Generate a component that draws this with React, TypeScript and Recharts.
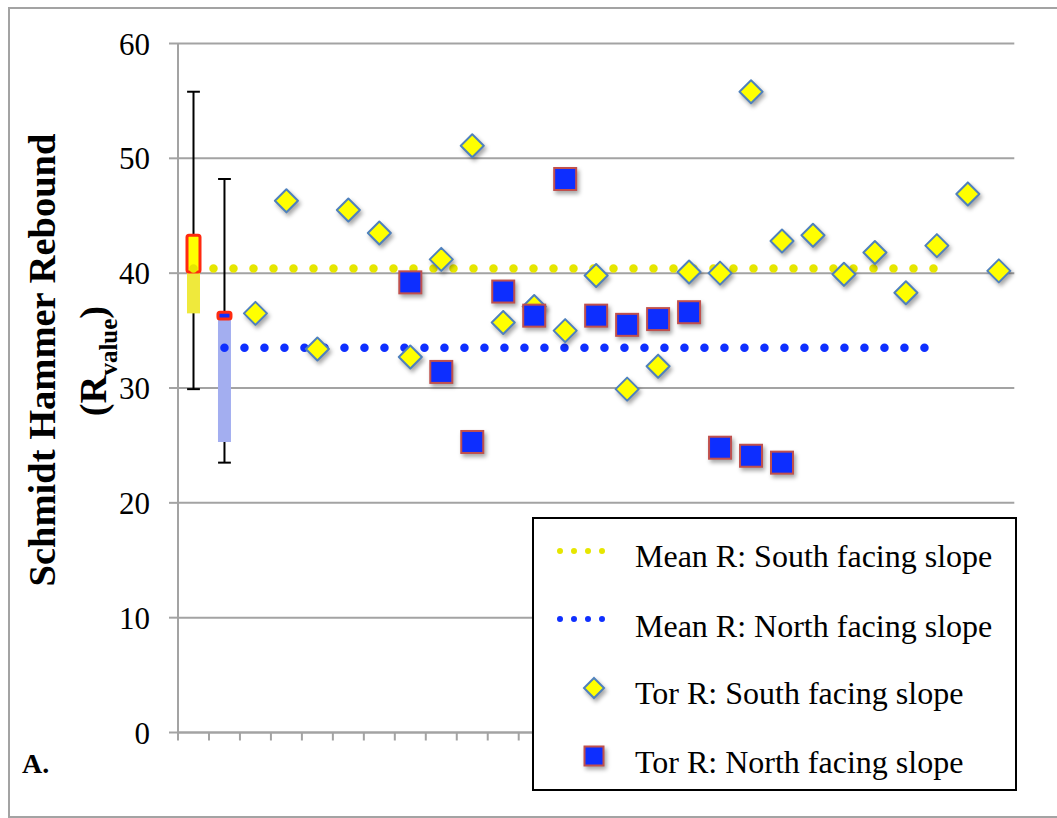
import React from 'react';
import {
  ComposedChart,
  XAxis,
  YAxis,
  CartesianGrid,
  Bar,
  Line,
  Scatter,
  Cell,
  Legend,
} from 'recharts';

// Slots along the x axis: two summary boxes (south, north), then one slot per tor
const SLOT_COUNT = 27;
const slotCenters = Array.from({ length: SLOT_COUNT }, (_, i) => i + 0.5);
const slotEdges = Array.from({ length: SLOT_COUNT + 1 }, (_, i) => i);

// Tor R values, south facing slope (slots 2 .. 26)
const SOUTH_FIRST_SLOT = 2;
const southTorR = [
  36.5, 46.3, 33.4, 45.5, 43.5, 32.7, 41.2, 51.1, 35.7, 37.1, 35.0, 39.8, 29.9,
  31.9, 40.1, 40.0, 55.8, 42.8, 43.3, 39.9, 41.8, 38.3, 42.4, 46.9, 40.2,
];

// Tor R values, north facing slope (slots 7 .. 19)
const NORTH_FIRST_SLOT = 7;
const northTorR = [39.2, 31.4, 25.3, 38.4, 36.3, 48.2, 36.3, 35.5, 36.0, 36.6, 24.8, 24.1, 23.5];

// Box-and-whisker summaries: [south, north]
const boxMin = [29.9, 23.5];
const boxQ1 = [36.5, 25.3];
const boxMedian = [40.1, 36.0];
const boxQ3 = [43.3, 36.6];
const boxMax = [55.8, 48.2];
const boxLowerFill = ['#efe93c', '#a3aef0'];
const boxUpperFill = ['#ffff00', '#0d2eff'];

// Mean R per slope and the slot range each mean line spans
const southMeanR = 40.4;
const northMeanR = 33.5;
const southMeanSlots = [0, 24];
const northMeanSlots = [1, 24];

const yTicks = [0, 10, 20, 30, 40, 50, 60];

const GRID = '#a3a3a3';
const YELLOW_DOT = '#e6e600';
const BLUE_DOT = '#0f2fff';
const DIAMOND_FILL = '#ffff00';
const DIAMOND_EDGE = '#4f81bd';
const SQUARE_FILL = '#0d2eff';
const SQUARE_EDGE = '#c0504d';
const BOX_EDGE = '#ff2a10';
const SERIF = '"Liberation Serif", "Times New Roman", serif';

const inRange = (i: number, span: number[]) => i >= span[0] && i <= span[1];

const rows = slotCenters.map((x, i) => ({
  x,
  whisker: i < boxMin.length ? [boxMin[i], boxMax[i]] : null,
  lower: i < boxQ1.length ? [boxQ1[i], boxMedian[i]] : null,
  upper: i < boxQ3.length ? [boxMedian[i], boxQ3[i]] : null,
  southMean: inRange(i, southMeanSlots) ? southMeanR : null,
  northMean: inRange(i, northMeanSlots) ? northMeanR : null,
}));

const southPoints = southTorR.map((r, k) => ({ x: slotCenters[SOUTH_FIRST_SLOT + k], r }));
const northPoints = northTorR.map((r, k) => ({ x: slotCenters[NORTH_FIRST_SLOT + k], r }));

const markShadow = { filter: 'drop-shadow(2px 3px 2px rgba(0,0,0,0.35))' };

function DiamondMark(props: any) {
  const { cx, cy } = props;
  if (cx == null || cy == null) return null;
  const h = 11.5;
  return (
    <polygon
      points={`${cx},${cy - h} ${cx + h},${cy} ${cx},${cy + h} ${cx - h},${cy}`}
      fill={DIAMOND_FILL}
      stroke={DIAMOND_EDGE}
      strokeWidth={2}
      strokeLinejoin="round"
      style={markShadow}
    />
  );
}

function SquareMark(props: any) {
  const { cx, cy } = props;
  if (cx == null || cy == null) return null;
  const h = 11;
  return (
    <rect
      x={cx - h}
      y={cy - h}
      width={2 * h}
      height={2 * h}
      fill={SQUARE_FILL}
      stroke={SQUARE_EDGE}
      strokeWidth={2}
      style={markShadow}
    />
  );
}

function WhiskerShape(props: any) {
  const { x, y, width, height } = props;
  if (x == null || y == null || !height) return null;
  const top = Math.min(y, y + height);
  const bottom = Math.max(y, y + height);
  const cx = x + width / 2;
  const cap = 6.4;
  return (
    <g stroke="#000" strokeWidth={2}>
      <line x1={cx} y1={top} x2={cx} y2={bottom} />
      <line x1={cx - cap} y1={top} x2={cx + cap} y2={top} />
      <line x1={cx - cap} y1={bottom} x2={cx + cap} y2={bottom} />
    </g>
  );
}

// Category ticks carry no text; only the tick marks are drawn
const EmptyTick = () => <g />;

function AxisTitle() {
  return (
    <g fontFamily={SERIF} fontWeight="bold" fill="#000">
      <text x={45} y={351} transform="rotate(-90 45 351)" textAnchor="middle" fontSize={38.5}>
        Schmidt Hammer Rebound
      </text>
      <text x={96} y={352} transform="rotate(-90 96 352)" textAnchor="middle" fontSize={38.5}>
        (R
        <tspan fontSize={25} dy={11}>
          value
        </tspan>
        <tspan dy={-11}>)</tspan>
      </text>
      <text x={12} y={764} fontSize={28}>
        A.
      </text>
    </g>
  );
}

function LegendPanel() {
  const textProps = { x: 101, fontFamily: SERIF, fontSize: 32, fill: '#000' };
  const dh = 10;
  const sh = 9.5;
  return (
    <div
      style={{
        width: 485,
        height: 274,
        boxSizing: 'border-box',
        border: '2px solid #000',
        background: '#fff',
      }}
    >
      <svg width={481} height={270} style={{ display: 'block' }}>
        <line x1={26} y1={32} x2={82} y2={32} stroke={YELLOW_DOT} strokeWidth={6} strokeDasharray="0 14" strokeLinecap="round" />
        <text {...textProps} y={48}>Mean R: South facing slope</text>
        <line x1={26} y1={100} x2={82} y2={100} stroke={BLUE_DOT} strokeWidth={6} strokeDasharray="0 14" strokeLinecap="round" />
        <text {...textProps} y={118}>Mean R: North facing slope</text>
        <polygon
          points={`60,${169 - dh} ${60 + dh},169 60,${169 + dh} ${60 - dh},169`}
          fill={DIAMOND_FILL}
          stroke={DIAMOND_EDGE}
          strokeWidth={2}
          style={markShadow}
        />
        <text {...textProps} y={185}>Tor R: South facing slope</text>
        <rect x={60 - sh} y={237 - sh} width={2 * sh} height={2 * sh} fill={SQUARE_FILL} stroke={SQUARE_EDGE} strokeWidth={2} style={markShadow} />
        <text {...textProps} y={254}>Tor R: North facing slope</text>
      </svg>
    </div>
  );
}

const hiddenAxis = (id: string) => (
  <XAxis xAxisId={id} type="number" dataKey="x" domain={[0, SLOT_COUNT]} hide />
);

export default function App() {
  return (
    <div
      style={{
        position: 'absolute',
        left: 8,
        top: 7,
        width: 1049,
        height: 811,
        boxSizing: 'border-box',
        borderTop: `2px solid ${GRID}`,
        borderLeft: `2px solid ${GRID}`,
        borderBottom: `2px solid ${GRID}`,
        background: '#fff',
        overflow: 'hidden',
      }}
    >
      <ComposedChart
        width={1047}
        height={807}
        data={rows}
        margin={{ top: 34.5, right: 42.7, bottom: 0, left: 0 }}
      >
        <CartesianGrid vertical={false} stroke={GRID} strokeWidth={2} />
        <XAxis
          type="number"
          dataKey="x"
          domain={[0, SLOT_COUNT]}
          ticks={slotEdges}
          interval={0}
          tick={EmptyTick}
          tickSize={8}
          tickLine={{ stroke: GRID, strokeWidth: 2 }}
          axisLine={{ stroke: GRID, strokeWidth: 2 }}
          height={83.5}
        />
        {hiddenAxis('whisker')}
        {hiddenAxis('lower')}
        {hiddenAxis('upper')}
        <YAxis
          type="number"
          domain={[0, 60]}
          ticks={yTicks}
          interval={0}
          width={168}
          tickSize={9}
          tickMargin={19}
          tick={{ fontFamily: SERIF, fontSize: 31, fill: '#000' }}
          tickLine={{ stroke: GRID, strokeWidth: 2 }}
          axisLine={{ stroke: GRID, strokeWidth: 2 }}
          label={AxisTitle}
        />
        <Bar xAxisId="whisker" dataKey="whisker" barSize={13} shape={WhiskerShape} isAnimationActive={false} legendType="none" />
        <Bar xAxisId="lower" dataKey="lower" barSize={13} isAnimationActive={false} legendType="none">
          {rows.map((_, i) => (
            <Cell key={i} fill={boxLowerFill[i] ?? 'none'} />
          ))}
        </Bar>
        <Bar xAxisId="upper" dataKey="upper" barSize={13} stroke={BOX_EDGE} strokeWidth={3} radius={2} isAnimationActive={false} legendType="none">
          {rows.map((_, i) => (
            <Cell key={i} fill={boxUpperFill[i] ?? 'none'} />
          ))}
        </Bar>
        <Line
          dataKey="southMean"
          stroke={YELLOW_DOT}
          strokeWidth={8.5}
          strokeDasharray="0 20"
          strokeLinecap="round"
          dot={false}
          activeDot={false}
          isAnimationActive={false}
          legendType="none"
        />
        <Line
          dataKey="northMean"
          stroke={BLUE_DOT}
          strokeWidth={8.5}
          strokeDasharray="0 20"
          strokeLinecap="round"
          dot={false}
          activeDot={false}
          isAnimationActive={false}
          legendType="none"
        />
        <Scatter data={southPoints} dataKey="r" shape={DiamondMark} isAnimationActive={false} legendType="none" />
        <Scatter data={northPoints} dataKey="r" shape={SquareMark} isAnimationActive={false} legendType="none" />
        <Legend
          layout="vertical"
          align="center"
          verticalAlign="middle"
          wrapperStyle={{ left: 522, top: 508, width: 485, height: 274 }}
          content={() => <LegendPanel />}
        />
      </ComposedChart>
    </div>
  );
}
